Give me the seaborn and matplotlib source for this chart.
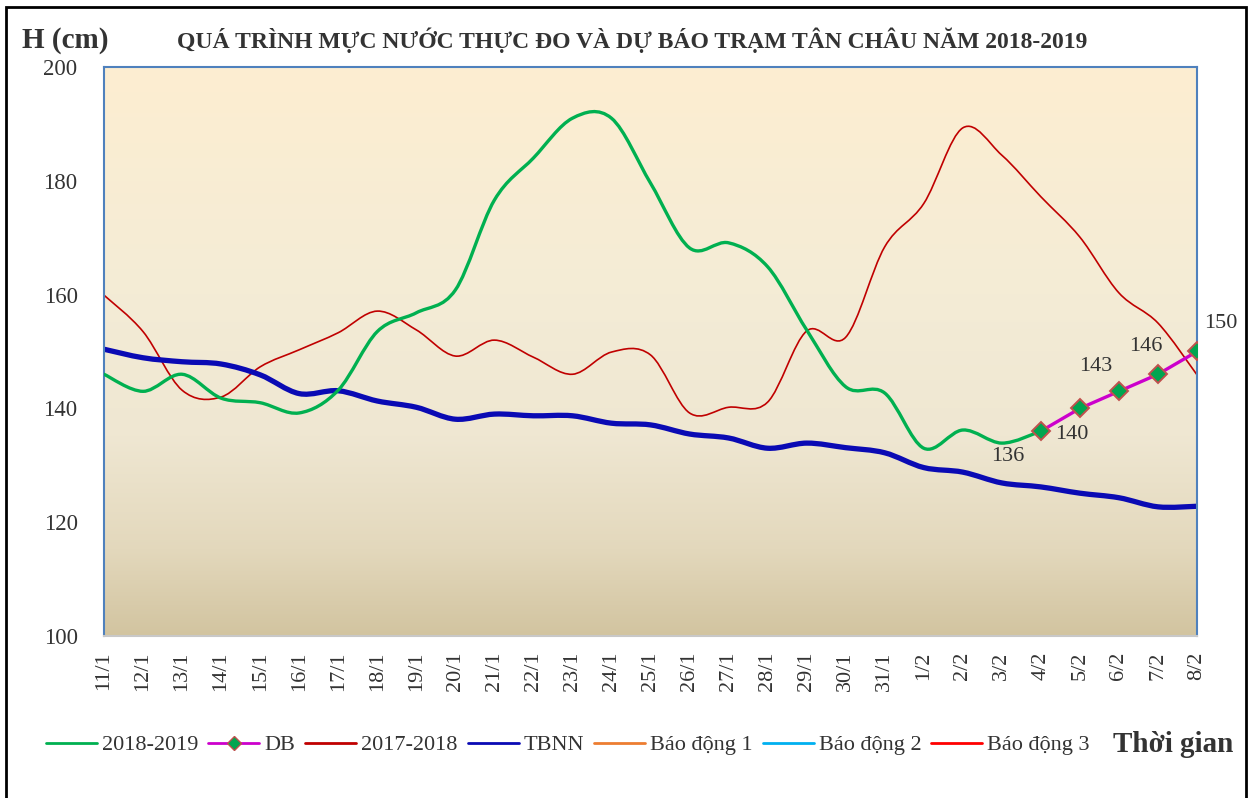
import numpy as np
import pandas as pd
import seaborn as sns
import matplotlib
matplotlib.use("Agg")
import matplotlib.pyplot as plt
from matplotlib.path import Path
from matplotlib.patches import PathPatch, Rectangle
from matplotlib.lines import Line2D
from matplotlib.colors import LinearSegmentedColormap

# ----------------------------------------------------------------
# Data
# ----------------------------------------------------------------
dates = ["11/1", "12/1", "13/1", "14/1", "15/1", "16/1", "17/1", "18/1", "19/1", "20/1",
         "21/1", "22/1", "23/1", "24/1", "25/1", "26/1", "27/1", "28/1", "29/1", "30/1",
         "31/1", "1/2", "2/2", "3/2", "4/2", "5/2", "6/2", "7/2", "8/2"]

h_2018_2019 = [146, 143, 146, 141.8, 141, 139.2, 143.2, 153.5, 156.8, 160.8,
               176.6, 184, 191, 191, 179.6, 168.2, 169.1, 164.9, 153.8, 143.8,
               142.7, 133, 136.2, 133.9, 136]

db_dates = ["4/2", "5/2", "6/2", "7/2", "8/2"]
h_db = [136, 140, 143, 146, 150]

h_2017_2018 = [159.9, 153.5, 143.2, 142.0, 147.3, 150.3, 153.3, 157.1, 153.8, 149.2,
               152, 149, 146, 149.9, 149.4, 139.2, 140.2, 141.1, 153.6, 152.5,
               168.4, 176, 189.3, 184.5, 177.2, 170.1, 160.3, 155.0, 145.9]

h_tbnn = [150.4, 148.9, 148.2, 147.8, 145.9, 142.6, 143.1, 141.3, 140.2, 138.1,
          139, 138.7, 138.7, 137.4, 137.1, 135.5, 134.8, 133.0, 133.9, 133.1,
          132.2, 129.6, 128.8, 126.9, 126.2, 125.1, 124.3, 122.7, 122.8]

legend_labels = ["2018-2019", "DB", "2017-2018", "TBNN", "Báo động 1", "Báo động 2", "Báo động 3"]


# ----------------------------------------------------------------
# Helpers
# ----------------------------------------------------------------
def smooth_path(xs, ys):
    """Excel-like smoothed line: cubic Bezier segments through the points."""
    pts = np.column_stack([xs, ys]).astype(float)
    n = len(pts)
    verts = [tuple(pts[0])]
    codes = [Path.MOVETO]
    for i in range(n - 1):
        p0 = pts[max(i - 1, 0)]
        p1 = pts[i]
        p2 = pts[i + 1]
        p3 = pts[min(i + 2, n - 1)]
        c1 = p1 + (p2 - p0) / 6.0
        c2 = p2 - (p3 - p1) / 6.0
        verts += [tuple(c1), tuple(c2), tuple(p2)]
        codes += [Path.CURVE4] * 3
    return Path(verts, codes)


def add_smooth(ax, xs, ys, color, lw, z):
    patch = PathPatch(smooth_path(xs, ys), fill=False, edgecolor=color, lw=lw,
                      capstyle="round", joinstyle="round", zorder=z)
    ax.add_patch(patch)


# ----------------------------------------------------------------
# Figure
# ----------------------------------------------------------------
sns.set_theme(style="white")
plt.rcParams["font.family"] = ["Liberation Serif", "DejaVu Serif"]

W, H = 1256, 798
fig = plt.figure(figsize=(W / 100, H / 100), dpi=100)
ax = fig.add_axes([104 / W, 1 - 636 / H, (1197 - 104) / W, (636 - 67) / H])

pos = {d: i for i, d in enumerate(dates)}
x_all = np.arange(len(dates))

# background gradient
cmap = LinearSegmentedColormap.from_list(
    "bg", [(0.0, "#D2C4A0"), (0.15, "#E3D8BC"), (0.35, "#EFE7D2"),
           (0.6, "#F4ECD6"), (1.0, "#FDEED1")])
grad = np.linspace(0, 1, 256).reshape(-1, 1)
ax.imshow(grad, extent=[0, 28, 100, 200], origin="lower", aspect="auto",
          cmap=cmap, zorder=0)

c_green, c_red, c_blue, c_mag = "#00B050", "#C00000", "#0A0AB4", "#CC00CC"

add_smooth(ax, x_all[:len(h_2018_2019)], h_2018_2019, c_green, 2.4, 3)
add_smooth(ax, x_all, h_2017_2018, c_red, 1.2, 2)
add_smooth(ax, x_all, h_tbnn, c_blue, 3.8, 2.5)

df_db = pd.DataFrame({"x": [pos[d] for d in db_dates], "h": h_db})
sns.lineplot(data=df_db, x="x", y="h", ax=ax, color=c_mag, lw=2.4, marker="D",
             markersize=9, markerfacecolor="#00A550", markeredgecolor="#C0504D",
             markeredgewidth=1.4, zorder=4)

# data labels for the forecast
offsets = [(-24, -18), (-6, -19), (-17, 18), (-9, 20), (17, 20)]
for d, v, off in zip(db_dates, h_db, offsets):
    ax.annotate(f"{v}", (pos[d], v), xytext=off, textcoords="offset points",
                ha="center", va="center", fontsize=16, color="#333333", zorder=5)

ax.set_xlim(0, 28)
ax.set_ylim(100, 200)
ax.set_yticks(range(100, 201, 20))
ax.set_xticks(x_all)
ax.set_xticklabels(dates, rotation=90)
ax.tick_params(axis="y", length=0, pad=19, labelsize=16.5, labelcolor="#333333")
ax.tick_params(axis="x", length=0, pad=11, labelsize=16, labelcolor="#333333")
ax.set_xlabel("")
ax.set_ylabel("")
for s in ["left", "top", "right"]:
    ax.spines[s].set_color("#4F81BD")
    ax.spines[s].set_linewidth(1.5)
ax.spines["bottom"].set_color("#C8C8C8")
ax.spines["bottom"].set_linewidth(1.5)

# titles
fig.text(65 / W, 1 - 40 / H, "H (cm)", ha="center", va="center",
         fontsize=21, fontweight="bold", color="#333333")
fig.text(632 / W, 1 - 40 / H,
         "QUÁ TRÌNH MỰC NƯỚC THỰC ĐO VÀ DỰ BÁO TRẠM TÂN CHÂU NĂM 2018-2019",
         ha="center", va="center", fontsize=17, fontweight="bold", color="#333333")
fig.text(1173 / W, 1 - 745 / H, "Thời gian", ha="center", va="center",
         fontsize=21, fontweight="bold", color="#333333")

# legend
handles = [
    Line2D([], [], color=c_green, lw=2),
    Line2D([], [], color=c_mag, lw=2, marker="D", markersize=7,
           markerfacecolor="#00A550", markeredgecolor="#C0504D"),
    Line2D([], [], color=c_red, lw=2),
    Line2D([], [], color=c_blue, lw=2),
    Line2D([], [], color="#ED7D31", lw=2),
    Line2D([], [], color="#00B0F0", lw=2),
    Line2D([], [], color="#FF0000", lw=2),
]
leg = fig.legend(handles, legend_labels, loc="center left", ncol=7,
                 bbox_to_anchor=(46 / W, 1 - 745 / H), frameon=False,
                 fontsize=16, handlelength=2.3, handletextpad=0.22,
                 columnspacing=0.45, borderaxespad=0, borderpad=0)
for t in leg.get_texts():
    t.set_color("#333333")

# outer frame
fig.patches.append(Rectangle((6 / W, -0.05), (1246 - 6) / W, 1.05 - 7 / H,
                             transform=fig.transFigure, fill=False,
                             edgecolor="black", lw=2))

fig.savefig("out.png", dpi=100)
